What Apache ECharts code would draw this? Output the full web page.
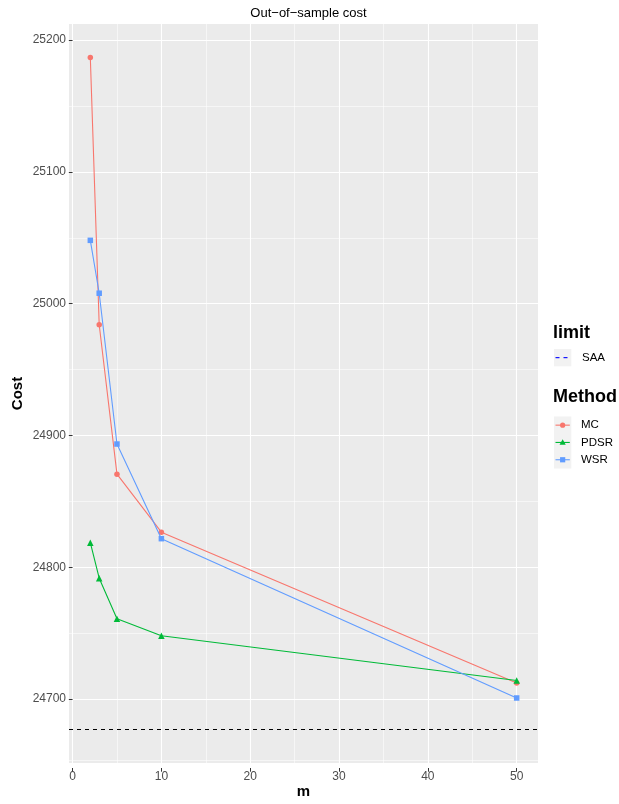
<!DOCTYPE html>
<html>
<head>
<meta charset="utf-8">
<script src="https://cdn.jsdelivr.net/npm/echarts@6/dist/echarts.min.js"></script>
<style>
  html, body { margin: 0; padding: 0; background: #ffffff; }
  #chart { width: 619px; height: 804px; }
</style>
</head>
<body>
<div id="chart"></div>
<script>
// Out-of-sample cost versus m for each method, with the SAA reference level
const mValues = [2, 3, 5, 10, 50];
const costMC = [25186.6, 24982.5, 24868.4, 24824.1, 24708.8];
const costPDSR = [24816.0, 24788.9, 24757.9, 24745.0, 24710.8];
const costWSR = [25047.0, 25006.6, 24891.4, 24819.1, 24697.4];
const costSAA = 24673.4;

const xTicks = [0, 10, 20, 30, 40, 50];
const yTicks = [24700, 24800, 24900, 25000, 25100, 25200];

const methodNames = ['MC', 'PDSR', 'WSR'];
const methodColors = ['#F8766D', '#00BA38', '#619CFF'];
const methodSymbols = ['circle', 'triangle', 'rect'];
const methodCosts = [costMC, costPDSR, costWSR];

// panel box in pixels
const P = { x0: 69, x1: 538, y0: 24, y1: 768 };
const FONT = '"Liberation Sans", Arial, Helvetica, sans-serif';

// 5% expansion of the data range on each side
function expandRange(lo, hi) {
  const d = (hi - lo) * 0.05;
  return [lo - d, hi + d];
}
const xLim = expandRange(Math.min(...mValues), Math.max(...mValues));
const allY = [].concat(costMC, costPDSR, costWSR, [costSAA]);
const yLim = expandRange(Math.min(...allY), Math.max(...allY));

const xpx = v => P.x0 + (v - xLim[0]) / (xLim[1] - xLim[0]) * (P.x1 - P.x0);
const ypx = v => P.y1 - (v - yLim[0]) / (yLim[1] - yLim[0]) * (P.y1 - P.y0);

const xStep = xTicks[1] - xTicks[0];
const yStep = yTicks[1] - yTicks[0];
// minor break below the first y tick that still falls inside the panel
const yMinorLow = yTicks[0] - yStep / 2;

const hidden = {
  axisLine: { show: false }, axisTick: { show: false },
  axisLabel: { show: false }, splitLine: { show: false }
};
const gridMajor = { show: true, lineStyle: { color: '#FFFFFF', width: 1.1 } };
const gridMinor = { show: true, lineStyle: { color: '#FFFFFF', width: 0.55 } };
const tickStyle = { show: true, length: 3.7, inside: false, lineStyle: { color: '#333333', width: 1 } };
const labelStyle = { color: '#4D4D4D', fontSize: 12, fontFamily: FONT, formatter: v => String(v) };

const series = methodNames.map((name, k) => ({
  type: 'line',
  name: name,
  xAxisIndex: 0,
  yAxisIndex: 0,
  data: mValues.map((x, i) => [x, methodCosts[k][i]]),
  symbol: methodSymbols[k],
  symbolSize: methodSymbols[k] === 'triangle' ? 6.5 : 5.5,
  showSymbol: true,
  lineStyle: { color: methodColors[k], width: 1.1 },
  itemStyle: { color: methodColors[k] },
  z: 3 + k,
  animation: false
}));

series[0].markLine = {
  silent: true,
  symbol: ['none', 'none'],
  label: { show: false },
  animation: false,
  data: [
    { yAxis: yMinorLow, lineStyle: { color: '#FFFFFF', width: 0.55, type: 'solid' } },
    { yAxis: costSAA, lineStyle: { color: '#000000', width: 1.1, type: [4, 4] } }
  ]
};

// legend drawn as graphic elements
const legendX = 554, keySize = 17.3;
const graphics = [];
graphics.push({ type: 'text', left: 553, top: 324, style: { text: 'limit', font: 'bold 18px ' + FONT, fill: '#000' } });
graphics.push({ type: 'rect', shape: { x: legendX, y: 349, width: keySize, height: keySize }, style: { fill: '#F2F2F2' } });
graphics.push({ type: 'line', shape: { x1: legendX + 1.5, y1: 349 + keySize / 2, x2: legendX + keySize - 1.5, y2: 349 + keySize / 2 }, style: { stroke: '#0000FF', lineWidth: 1.1, lineDash: [4, 4] } });
graphics.push({ type: 'text', x: 582, y: 349 + keySize / 2, style: { text: 'SAA', font: '11.5px ' + FONT, fill: '#000', textVerticalAlign: 'middle' } });

graphics.push({ type: 'text', left: 553, top: 388, style: { text: 'Method', font: 'bold 18px ' + FONT, fill: '#000' } });
const keyTop = 416.5;
graphics.push({ type: 'rect', shape: { x: legendX, y: keyTop, width: keySize, height: keySize * methodNames.length }, style: { fill: '#F2F2F2' } });
methodNames.forEach((name, k) => {
  const cy = keyTop + keySize * (k + 0.5);
  const cx = legendX + keySize / 2;
  graphics.push({ type: 'line', shape: { x1: legendX + 1.5, y1: cy, x2: legendX + keySize - 1.5, y2: cy }, style: { stroke: methodColors[k], lineWidth: 1.1 } });
  if (methodSymbols[k] === 'circle') {
    graphics.push({ type: 'circle', shape: { cx: cx, cy: cy, r: 2.6 }, style: { fill: methodColors[k] } });
  } else if (methodSymbols[k] === 'triangle') {
    graphics.push({ type: 'polygon', shape: { points: [[cx, cy - 3.2], [cx + 3.1, cy + 2.3], [cx - 3.1, cy + 2.3]] }, style: { fill: methodColors[k] } });
  } else {
    graphics.push({ type: 'rect', shape: { x: cx - 2.6, y: cy - 2.6, width: 5.2, height: 5.2 }, style: { fill: methodColors[k] } });
  }
  graphics.push({ type: 'text', x: 581, y: cy, style: { text: name, font: '11.5px ' + FONT, fill: '#000', textVerticalAlign: 'middle' } });
});

const option = {
  animation: false,
  backgroundColor: '#FFFFFF',
  title: {
    text: 'Out\u2212of\u2212sample cost',
    left: (P.x0 + P.x1) / 2,
    textAlign: 'center',
    top: 2,
    textStyle: { fontSize: 13, fontWeight: 'normal', color: '#000', fontFamily: FONT }
  },
  grid: [
    { left: P.x0, top: P.y0, width: P.x1 - P.x0, height: P.y1 - P.y0, show: true, backgroundColor: '#EBEBEB', borderWidth: 0, containLabel: false },
    { left: xpx(xTicks[0]), width: xpx(xTicks[xTicks.length - 1]) - xpx(xTicks[0]), top: P.y0, height: P.y1 - P.y0, show: false, containLabel: false },
    { left: P.x0, width: P.x1 - P.x0, top: ypx(yTicks[yTicks.length - 1]), height: ypx(yTicks[0]) - ypx(yTicks[yTicks.length - 1]), show: false, containLabel: false }
  ],
  xAxis: [
    Object.assign({ gridIndex: 0, type: 'value', min: xLim[0], max: xLim[1],
      name: 'm', nameLocation: 'middle', nameGap: 21,
      nameTextStyle: { fontWeight: 'bold', fontSize: 15, color: '#000', fontFamily: FONT } }, hidden),
    { gridIndex: 1, type: 'value', min: xTicks[0], max: xTicks[xTicks.length - 1], interval: xStep,
      axisLine: { show: false }, axisTick: tickStyle,
      axisLabel: Object.assign({ margin: 3 }, labelStyle),
      splitLine: gridMajor,
      minorTick: { show: false, splitNumber: 2 },
      minorSplitLine: gridMinor },
    Object.assign({ gridIndex: 2, type: 'value', min: xLim[0], max: xLim[1] }, hidden)
  ],
  yAxis: [
    Object.assign({ gridIndex: 0, type: 'value', min: yLim[0], max: yLim[1],
      name: 'Cost', nameLocation: 'middle', nameGap: 44, nameRotate: 90,
      nameTextStyle: { fontWeight: 'bold', fontSize: 15, color: '#000', fontFamily: FONT } }, hidden),
    Object.assign({ gridIndex: 1, type: 'value', min: yLim[0], max: yLim[1] }, hidden),
    { gridIndex: 2, type: 'value', min: yTicks[0], max: yTicks[yTicks.length - 1], interval: yStep,
      axisLine: { show: false }, axisTick: tickStyle,
      axisLabel: Object.assign({ margin: 3 }, labelStyle),
      splitLine: gridMajor,
      minorTick: { show: false, splitNumber: 2 },
      minorSplitLine: gridMinor }
  ],
  series: series,
  graphic: graphics
};

const chart = echarts.init(document.getElementById('chart'), null, { renderer: 'canvas' });
chart.setOption(option);
</script>
</body>
</html>
